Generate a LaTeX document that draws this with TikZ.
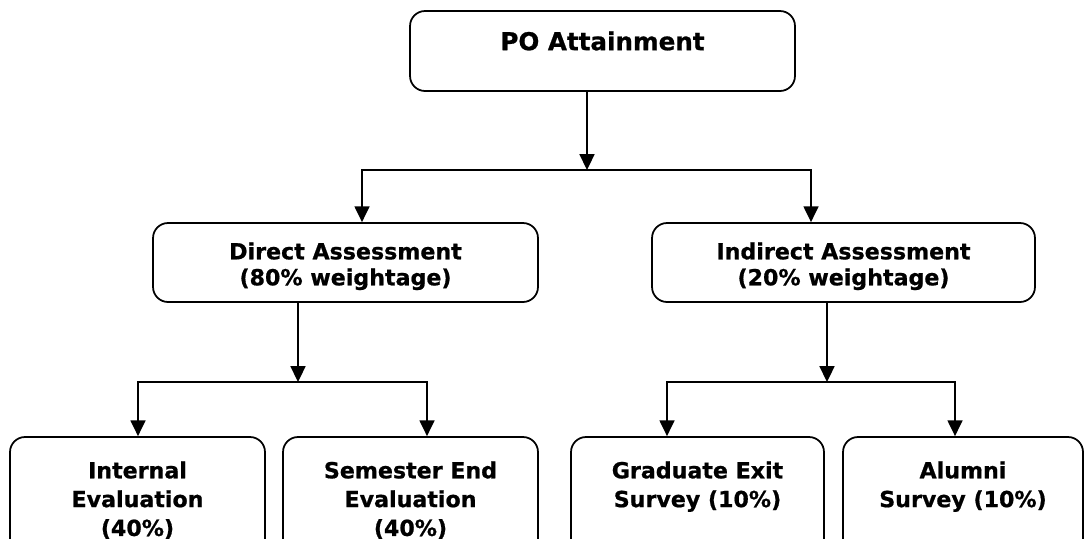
\documentclass[tikz,border=0pt]{standalone}
\usepackage{fontspec}
\setmainfont{DejaVu Sans}[BoldFeatures={FakeBold=0.8}]
\usepackage{tikz}
\usetikzlibrary{positioning, arrows.meta}

\begin{document}
\begin{tikzpicture}[x=0.02cm, y=0.02cm,
                    every node/.style = {text=black},
                    box/.style  = {draw, line width=1pt, rounded corners=0.3cm, inner sep=0pt},
                    txt/.style  = {font=\bfseries\fontsize{12.6}{14.8}\selectfont, align=center, inner sep=0pt, anchor=north},
                    low/.style  = {font=\bfseries\fontsize{12.6}{16.4}\selectfont},
                    arr/.style  = {draw, line width=1pt, -{Triangle[width=8.5pt, length=9pt]}},
                    fork/.style = {draw, line width=1pt, line join=miter,
                                   {Triangle[width=8.5pt, length=9pt]}-{Triangle[width=8.5pt, length=9pt]}}]
    \useasboundingbox (0,0) rectangle (1087,-538);
    \clip (0,0) rectangle (1087,-538);

    \node (po) [box, minimum width=7.7cm,  minimum height=1.6cm]  at (602.5,-51)  {};
    \node (da) [box, minimum width=7.7cm,  minimum height=1.58cm] at (345.5,-262.5) {};
    \node (ia) [box, minimum width=7.66cm, minimum height=1.58cm] at (843.5,-262.5) {};
    \node (ie) [box, minimum width=5.1cm,  minimum height=2.6cm]  at (137.5,-502) {};
    \node (se) [box, minimum width=5.1cm,  minimum height=2.6cm]  at (410.5,-502) {};
    \node (ge) [box, minimum width=5.06cm, minimum height=2.6cm]  at (697.5,-502) {};
    \node (al) [box, minimum width=4.8cm,  minimum height=2.6cm]  at (963,-502)   {};

    \node (pot) [txt, font=\bfseries\fontsize{14}{16}\selectfont] at ([yshift=-0.42cm] po.north) {PO Attainment};
    \node (dat) [txt] at ([yshift=-0.40cm] da.north) {Direct Assessment\\(80\% weightage)};
    \node (iat) [txt] at ([yshift=-0.40cm] ia.north) {Indirect Assessment\\(20\% weightage)};
    \node (iet) [txt, low] at ([yshift=-0.50cm] ie.north) {Internal\\Evaluation\\(40\%)};
    \node (set) [txt, low] at ([yshift=-0.50cm] se.north) {Semester End\\Evaluation\\(40\%)};
    \node (get) [txt, low] at ([yshift=-0.50cm] ge.north) {Graduate Exit\\Survey (10\%)};
    \node (alt) [txt, low] at ([yshift=-0.50cm] al.north) {Alumni\\Survey (10\%)};

    \coordinate (j1)  at (587,-170);
    \coordinate (j1l) at (362,-170);
    \coordinate (j1r) at (811,-170);
    \coordinate (j2)  at (298,-382);
    \coordinate (j2l) at (138,-382);
    \coordinate (j2r) at (427,-382);
    \coordinate (j3)  at (827,-382);
    \coordinate (j3l) at (667,-382);
    \coordinate (j3r) at (955,-382);

    \draw [arr]  (po.south -| j1) -- (j1);
    \draw [fork] (da.north -| j1l) -- (j1l) -- (j1r) -- (ia.north -| j1r);

    \draw [arr]  (da.south -| j2) -- (j2);
    \draw [fork] (ie.north -| j2l) -- (j2l) -- (j2r) -- (se.north -| j2r);

    \draw [arr]  (ia.south -| j3) -- (j3);
    \draw [fork] (ge.north -| j3l) -- (j3l) -- (j3r) -- (al.north -| j3r);
\end{tikzpicture}
\end{document}
